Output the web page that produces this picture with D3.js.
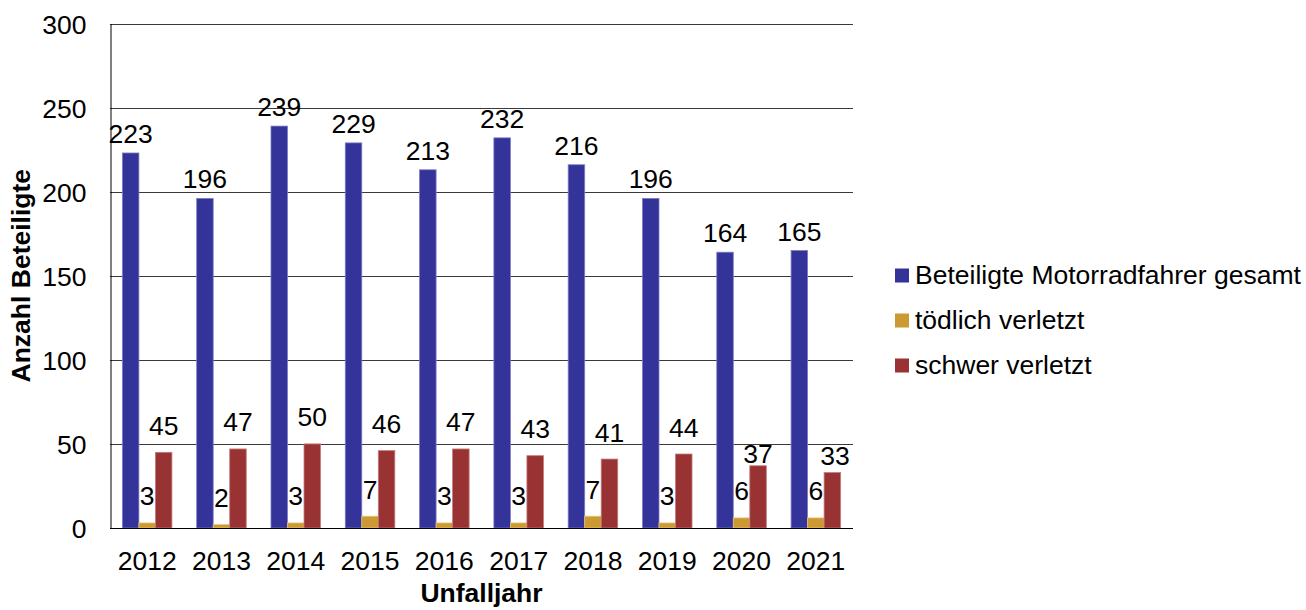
<!DOCTYPE html>
<html lang="de">
<head>
<meta charset="utf-8">
<script src="https://cdn.jsdelivr.net/npm/d3@7"></script>
<style>
  html, body { margin: 0; padding: 0; background: #fff; }
  svg { display: block; font-family: "Liberation Sans", Arial, sans-serif; }
</style>
</head>
<body>
<svg id="chart" width="1306" height="610"></svg>
<script>
// Unfallbeteiligte Motorradfahrer nach Unfalljahr
const years = ["2012", "2013", "2014", "2015", "2016", "2017", "2018", "2019", "2020", "2021"];
const seriesNames = ["Beteiligte Motorradfahrer gesamt", "tödlich verletzt", "schwer verletzt"];
const gesamt = [223, 196, 239, 229, 213, 232, 216, 196, 164, 165];
const toedlich = [3, 2, 3, 7, 3, 3, 7, 3, 6, 6];
const schwer = [45, 47, 50, 46, 47, 43, 41, 44, 37, 33];
const yTicks = [0, 50, 100, 150, 200, 250, 300];

const seriesValues = [gesamt, toedlich, schwer];
const colors = ["#333399", "#cc9933", "#993333"];
const edge = ["#7c7cc4", "#e6c27a", "#c47a7a"];
// distance between bar top and label baseline per series
const labelGap = [10, 17.5, 17.5];
// hand-placed labels that sit closer to their bars
const labelNudge = { "2020|2": { dx: 0, dy: 14.5 }, "2021|2": { dx: 2.7, dy: 10 } };

const svg = d3.select("#chart");
const fs = 26.5;

const x0 = d3.scaleBand().domain(years).range([110, 853]).padding(0);
const bw = x0.bandwidth();
const x1 = d3.scaleBand().domain(d3.range(seriesNames.length)).range([bw / 6, bw * 5 / 6]).padding(0);
const y = d3.scaleLinear().domain([0, 300]).range([528, 23.5]);

// horizontal gridlines
svg.append("g")
  .selectAll("line")
  .data(yTicks.filter(t => t > 0))
  .join("line")
  .attr("x1", 110).attr("x2", 853)
  .attr("y1", d => Math.round(y(d)) + 0.5).attr("y2", d => Math.round(y(d)) + 0.5)
  .attr("stroke", "#3a3a3a").attr("stroke-width", 1);

// y axis
const yAxis = svg.append("g")
  .attr("transform", "translate(110.5,0)")
  .call(d3.axisLeft(y).tickValues(yTicks).tickSize(0).tickPadding(24));
yAxis.select(".domain").attr("stroke", "#000").attr("stroke-width", 1);
yAxis.selectAll("text")
  .attr("font-size", fs).attr("fill", "#000")
  .attr("font-family", "Liberation Sans, Arial, sans-serif")
  .attr("dy", "0.36em");

// bars
const groups = svg.append("g")
  .selectAll("g")
  .data(years)
  .join("g")
  .attr("transform", d => `translate(${x0(d)},0)`);

groups.selectAll("rect")
  .data((d, i) => seriesValues.map((vals, s) => ({ year: d, s, v: vals[i] })))
  .join("rect")
  .attr("x", d => x1(d.s))
  .attr("width", x1.bandwidth())
  .attr("y", d => y(d.v))
  .attr("height", d => y(0) - y(d.v))
  .attr("fill", d => colors[d.s])
  .attr("stroke", d => edge[d.s])
  .attr("stroke-width", 0.8);

// value labels
groups.selectAll("text")
  .data((d, i) => seriesValues.map((vals, s) => ({ year: d, s, v: vals[i] })))
  .join("text")
  .attr("x", d => x1(d.s) + x1.bandwidth() / 2 + ((labelNudge[d.year + "|" + d.s] || {}).dx || 0))
  .attr("y", d => y(d.v) - labelGap[d.s] + ((labelNudge[d.year + "|" + d.s] || {}).dy || 0))
  .attr("text-anchor", "middle")
  .attr("font-size", fs)
  .attr("fill", "#000")
  .text(d => d.v);

// x axis baseline
svg.append("line")
  .attr("x1", 110).attr("x2", 853)
  .attr("y1", 528.5).attr("y2", 528.5)
  .attr("stroke", "#000").attr("stroke-width", 1);

// category labels
svg.append("g")
  .selectAll("text")
  .data(years)
  .join("text")
  .attr("x", d => x0(d) + bw / 2)
  .attr("y", 570)
  .attr("text-anchor", "middle")
  .attr("font-size", fs)
  .text(d => d);

// axis titles
svg.append("text")
  .attr("x", 481.5).attr("y", 601.5)
  .attr("text-anchor", "middle")
  .attr("font-size", fs).attr("font-weight", "bold")
  .text("Unfalljahr");

svg.append("text")
  .attr("transform", "translate(29.5,275.7) rotate(-90)")
  .attr("text-anchor", "middle")
  .attr("font-size", fs).attr("font-weight", "bold")
  .text("Anzahl Beteiligte");

// legend
const legend = svg.append("g")
  .selectAll("g")
  .data(seriesNames)
  .join("g")
  .attr("transform", (d, i) => `translate(895,${275.5 + i * 45})`);
legend.append("rect")
  .attr("x", 0).attr("y", -7).attr("width", 14).attr("height", 14)
  .attr("fill", (d, i) => colors[i]);
legend.append("text")
  .attr("x", 20).attr("y", 8)
  .attr("font-size", fs)
  .text(d => d);
</script>
</body>
</html>
